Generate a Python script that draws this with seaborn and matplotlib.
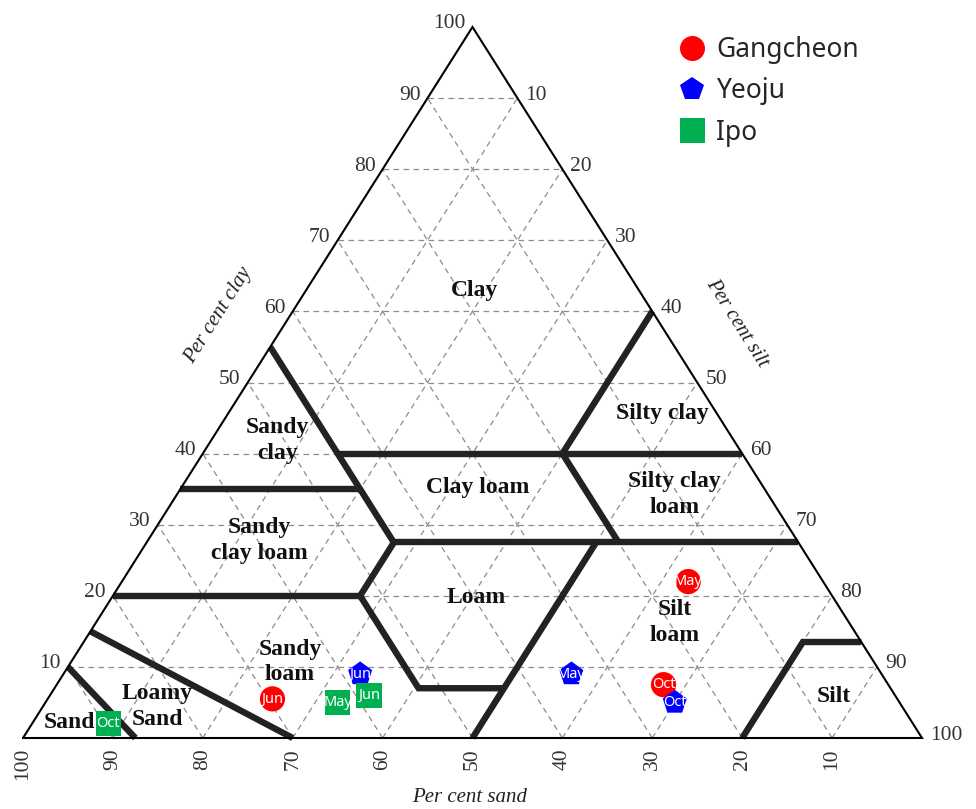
import numpy as np
import pandas as pd
import matplotlib
matplotlib.use("Agg")
import matplotlib.pyplot as plt
from matplotlib.lines import Line2D
import seaborn as sns

# ---------------- sample data: percent sand / silt / clay ----------------
sites = ["Gangcheon"] * 3 + ["Yeoju"] * 3 + ["Ipo"] * 3
months = ["May", "Jun", "Oct"] * 3
sand = [15.0, 69.5, 25.0, 34.5, 58.0, 25.0, 62.5, 58.5, 89.5]
silt = [63.0, 25.0, 67.5, 56.5, 33.0, 70.0, 32.5, 35.5, 8.5]
clay = [22.0, 5.5, 7.5, 9.0, 9.0, 5.0, 5.0, 6.0, 2.0]

site_order = ["Gangcheon", "Yeoju", "Ipo"]
site_colors = ["#ff0000", "#0000ff", "#00b050"]
site_markers = ["o", "p", "s"]

tick_values = [10, 20, 30, 40, 50, 60, 70, 80, 90, 100]

# USDA texture-class boundaries as (sand, silt, clay) vertices
class_boundaries = [
    [(45, 0, 55), (45, 27.5, 27.5), (52.5, 27.5, 20), (52.5, 40.5, 7), (43, 50, 7)],
    [(50, 50, 0), (22.5, 50, 27.5)],
    [(45, 15, 40), (0, 60, 40)],
    [(0, 40, 60), (20, 40, 40), (20, 52.5, 27.5)],
    [(45, 27.5, 27.5), (0, 72.5, 27.5)],
    [(65, 0, 35), (45, 20, 35)],
    [(80, 0, 20), (52.5, 27.5, 20)],
    [(85, 0, 15), (70, 30, 0)],
    [(90, 0, 10), (87.5, 12.5, 0)],
    [(20, 80, 0), (6.5, 80, 13.5), (0, 86.5, 13.5)],
]

class_names = ["Clay", "Sandy\nclay", "Silty clay", "Clay loam", "Silty clay\nloam",
               "Sandy\nclay loam", "Loam", "Silt\nloam", "Sandy\nloam",
               "Loamy\nSand", "Sand", "Silt"]
# label anchor points in the projected triangle (x along base, y = clay)
class_label_xy = [(50.2, 62.9), (28.3, 41.8), (71.1, 45.6), (50.6, 35.2), (72.5, 34.2),
                  (26.3, 27.8), (50.4, 19.7), (72.5, 16.3), (29.7, 10.7),
                  (14.9, 4.4), (5.2, 2.25), (90.2, 5.9)]


def project(si, cl):
    """Ternary (silt, clay) -> planar x, y with sand=100 at the left corner."""
    si = np.asarray(si, dtype=float)
    cl = np.asarray(cl, dtype=float)
    return si + cl / 2.0, cl


# ---------------- figure / axes geometry ----------------
W, H = 976, 809
PX_L, PX_R, PX_B, PX_T = 23, 922, 738, 27
sx = (PX_R - PX_L) / 100.0
sy = (PX_B - PX_T) / 100.0

sns.set_theme(style="white")
plt.rcParams["font.family"] = ["Liberation Serif", "DejaVu Serif"]

fig = plt.figure(figsize=(W / 100, H / 100), dpi=100)
ax = fig.add_axes([0, 0, 1, 1])
ax.set_xlim(-PX_L / sx, (W - PX_L) / sx)
ax.set_ylim((PX_B - H) / sy, PX_B / sy)
ax.axis("off")

# dashed reference grid
grid_kw = dict(color="#8c8c8c", lw=0.9, ls=(0, (4.5, 3.5)), zorder=1)
for k in tick_values[:-1]:
    # constant clay
    x, y = project([0, 100 - k], [k, k])
    ax.plot(x, y, **grid_kw)
    # constant sand
    x, y = project([100 - k, 0], [0, 100 - k])
    ax.plot(x, y, **grid_kw)
    # constant silt
    x, y = project([k, k], [0, 100 - k])
    ax.plot(x, y, **grid_kw)

# triangle outline
ox, oy = project([0, 100, 0, 0], [0, 0, 100, 0])
ax.plot(ox, oy, color="black", lw=1.5, zorder=3, solid_joinstyle="miter")

# texture class boundaries
for line in class_boundaries:
    _, si, cl = zip(*line)
    x, y = project(si, cl)
    ax.plot(x, y, color="#222222", lw=4.6, zorder=2, solid_capstyle="butt",
            solid_joinstyle="miter")

for name, (lx, ly) in zip(class_names, class_label_xy):
    ax.text(lx, ly, name, ha="center", va="center", fontsize=17,
            fontweight="bold", color="#111111", linespacing=1.3, zorder=4)

# tick labels
tick_kw = dict(fontsize=15.5, color="#333333", textcoords="offset pixels")
for k in tick_values:
    x, y = project([0], [k])
    ax.annotate(str(k), (x[0], y[0]), xytext=(-7, 3), ha="right", va="center", **tick_kw)
    x, y = project([k], [100 - k])
    ax.annotate(str(k), (x[0], y[0]), xytext=(8, 3), ha="left", va="center", **tick_kw)
    x, y = project([100 - k], [0])
    ax.annotate(str(k), (x[0], y[0]), xytext=(0, -10), ha="center", va="top",
                rotation=90, **tick_kw)

# axis titles
edge_angle = np.degrees(np.arctan2(100 * sy, 50 * sx))
title_kw = dict(fontsize=15, style="italic", color="#222222", ha="center", va="center")
ax.text(21.7, 59.4, "Per cent clay", rotation=edge_angle, **title_kw)
ax.text(79.4, 58.4, "Per cent silt", rotation=-edge_angle, **title_kw)
ax.text(49.7, -8.3, "Per cent sand", **title_kw)

# sample points
px, py = project(silt, clay)
df = pd.DataFrame({"site": sites, "month": months, "x": px, "y": py})
sns.scatterplot(data=df, x="x", y="y", hue="site", style="site",
                hue_order=site_order, style_order=site_order,
                palette=dict(zip(site_order, site_colors)),
                markers=dict(zip(site_order, site_markers)),
                s=330, linewidth=0, legend=False, ax=ax, zorder=5)
for _, r in df.iterrows():
    ax.text(r.x, r.y, r.month, color="white", ha="center", va="center",
            fontsize=10.5, family=["Liberation Sans Narrow", "Noto Sans"], zorder=6)

handles = [Line2D([], [], ls="", marker=m, color=c, markersize=18, markeredgewidth=0)
           for m, c in zip(site_markers, site_colors)]
ax.legend(handles, site_order, loc="upper left",
          bbox_to_anchor=(666 / W, 1 - 23 / H), bbox_transform=fig.transFigure,
          frameon=False, borderpad=0, handlelength=1.0, handletextpad=0.4,
          labelspacing=0.5, prop={"family": "Noto Sans", "size": 19})

fig.savefig("out.png", dpi=100)
